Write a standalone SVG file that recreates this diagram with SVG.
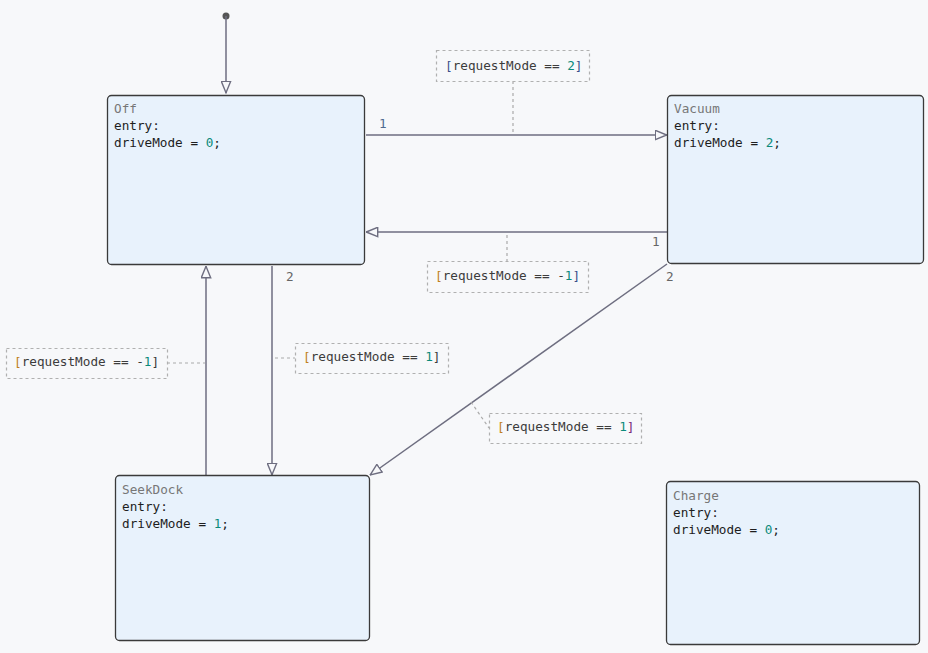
<svg xmlns="http://www.w3.org/2000/svg" width="928" height="653" viewBox="0 0 928 653">
<style>
.bg{fill:#f7f8fa}
.node{fill:#e8f2fc;stroke:#3a3a3a;stroke-width:1.3}
.t{font-family:"DejaVu Sans Mono","Liberation Mono",monospace;font-size:12.7px;fill:#1e1e1e}
.name{fill:#777}
.num{fill:#0a8a7a}
.edge{stroke:#6e6e80;stroke-width:1.5;fill:none}
.guard{fill:#f7f8fa;stroke:#b0b0b0;stroke-width:1.2;stroke-dasharray:3,3}
.dash{stroke:#aaaaaa;stroke-width:1.2;stroke-dasharray:3,3;fill:none}
.g{fill:#3c3c3c}
.bo{fill:#c08020}
.bb{fill:#3a4f8a}
.bp{fill:#7a2a7a}
.lbl{font-family:"DejaVu Sans Mono","Liberation Mono",monospace;font-size:12.7px;fill:#666}
</style>
<defs>
<marker id="arr" viewBox="0 0 13 11" refX="12.5" refY="5.5" markerWidth="13" markerHeight="11" markerUnits="userSpaceOnUse" orient="auto">
<path d="M0.8,0.8 L12.2,5.5 L0.8,10.2 Z" fill="#f7f8fa" stroke="#6e6e80" stroke-width="1.4"/>
</marker>
</defs>
<rect class="bg" x="0" y="0" width="928" height="653"/>

<g id="connectors">
<g id="initial">
<circle cx="226" cy="16" r="3.5" fill="#555"/>
<line class="edge" x1="226" y1="16" x2="226" y2="93" marker-end="url(#arr)"/>
</g>
<g id="off-vacuum">
<line class="edge" x1="366" y1="135" x2="667" y2="135" marker-end="url(#arr)"/>
<text class="lbl" x="379" y="128" style="fill:#4f6a90">1</text>
<line class="dash" x1="513" y1="81" x2="513" y2="135"/>
<rect class="guard" x="436.5" y="50.5" width="153" height="31"/>
<text class="t" x="445" y="70"><tspan class="bb">[</tspan><tspan class="g">requestMode == </tspan><tspan class="num">2</tspan><tspan class="bb">]</tspan></text>
</g>
<g id="vacuum-off">
<line class="edge" x1="667" y1="232" x2="366" y2="232" marker-end="url(#arr)"/>
<text class="lbl" x="652" y="246">1</text>
<line class="dash" x1="507" y1="235" x2="507" y2="261"/>
<rect class="guard" x="427.5" y="261.5" width="161" height="31"/>
<text class="t" x="435" y="280"><tspan class="bo">[</tspan><tspan class="g">requestMode == -</tspan><tspan class="num">1</tspan><tspan class="bb">]</tspan></text>
</g>
<g id="vacuum-seekdock">
<line class="edge" x1="667" y1="264" x2="370" y2="475" marker-end="url(#arr)"/>
<text class="lbl" x="666" y="281">2</text>
<line class="dash" x1="471" y1="402" x2="489" y2="428"/>
<rect class="guard" x="489.5" y="413.5" width="152" height="30"/>
<text class="t" x="497" y="431"><tspan class="bo">[</tspan><tspan class="g">requestMode == </tspan><tspan class="num">1</tspan><tspan class="bp">]</tspan></text>
</g>
<g id="off-seekdock">
<line class="edge" x1="272" y1="266" x2="272" y2="475" marker-end="url(#arr)"/>
<text class="lbl" x="286" y="281">2</text>
<line class="dash" x1="275" y1="358" x2="295" y2="358"/>
<rect class="guard" x="295.5" y="343.5" width="153" height="30"/>
<text class="t" x="303" y="361"><tspan class="bo">[</tspan><tspan class="g">requestMode == </tspan><tspan class="num">1</tspan><tspan class="g">]</tspan></text>
</g>
<g id="seekdock-off">
<line class="edge" x1="206" y1="475" x2="206" y2="266" marker-end="url(#arr)"/>
<line class="dash" x1="167" y1="363" x2="205" y2="363"/>
<rect class="guard" x="6.5" y="348.5" width="161" height="30"/>
<text class="t" x="14" y="366"><tspan class="bo">[</tspan><tspan class="g">requestMode == -</tspan><tspan class="num">1</tspan><tspan class="g">]</tspan></text>
</g>
</g>

<g id="Off">
<rect class="node" x="107.5" y="95.5" width="257" height="169" rx="4"/>
<text class="t name" x="114" y="113">Off</text>
<text class="t" x="114" y="130">entry:</text>
<text class="t" x="114" y="147">driveMode = <tspan class="num">0</tspan>;</text>
</g>
<g id="Vacuum">
<rect class="node" x="667.5" y="95.5" width="256" height="168" rx="4"/>
<text class="t name" x="674" y="113">Vacuum</text>
<text class="t" x="674" y="130">entry:</text>
<text class="t" x="674" y="147">driveMode = <tspan class="num">2</tspan>;</text>
</g>
<g id="SeekDock">
<rect class="node" x="115.5" y="475.5" width="254" height="165" rx="4"/>
<text class="t name" x="122" y="494">SeekDock</text>
<text class="t" x="122" y="511">entry:</text>
<text class="t" x="122" y="528">driveMode = <tspan class="num">1</tspan>;</text>
</g>
<g id="Charge">
<rect class="node" x="666.5" y="481.5" width="253" height="163" rx="4"/>
<text class="t name" x="673" y="500">Charge</text>
<text class="t" x="673" y="517">entry:</text>
<text class="t" x="673" y="534">driveMode = <tspan class="num">0</tspan>;</text>
</g>
</svg>
